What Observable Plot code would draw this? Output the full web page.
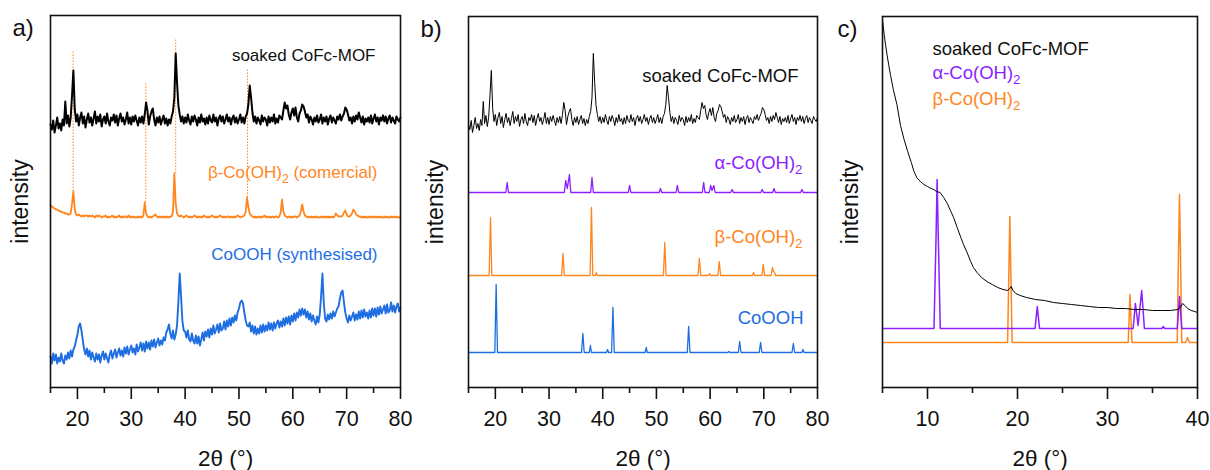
<!DOCTYPE html>
<html><head><meta charset="utf-8">
<script src="https://cdn.jsdelivr.net/npm/d3@7"></script>
<script src="https://cdn.jsdelivr.net/npm/@observablehq/plot@0.6"></script>
<style>
body{margin:0;background:#fff;}
#wrap{position:relative;width:1210px;height:470px;overflow:hidden;}
#wrap svg{position:absolute;top:0;}
</style></head><body><div id="wrap"></div>
<script>
// ---------- data ----------
// 2θ grid of the measured patterns (panel a/b), 0.25° steps from 15 to 80
const gridStart = 15, gridStep = 0.25;
// soaked CoFc-MOF (measured, arbitrary intensity)
const soaked = [
263,258,267,255, 262,270,259,264, 257,268,262,286, 264,272,261,270, 292,317,279,266,
273,262,270,275, 264,271,260,268, 274,265,270,262, 269,276,264,271, 266,273,261,268,
271,264,274,266, 262,270,267,273, 265,272,262,269, 274,266,270,263, 268,275,264,270,
263,271,266,272, 267,262,270,265, 271,264,273,285, 277,263,271,276, 279,268,262,270,
265,271,263,268, 272,264,269,262, 268,264,271,276, 290,334,305,282, 273,266,271,264,
270,265,273,267, 263,271,266,272, 268,262,270,265, 273,266,269,263, 270,264,272,267,
265,273,266,270, 262,269,272,266, 271,264,268,273, 266,270,263,269, 272,265,270,264,
268,273,265,270, 264,271,274,283, 302,290,275,266, 271,264,270,267, 263,272,266,270,
268,262,271,265, 270,266,273,264, 269,265,272,270, 268,277,285,279, 282,273,268,275,
279,272,280,270, 266,274,277,283, 281,276,270,273, 265,271,268,263, 270,266,272,265,
268,273,264,270, 266,271,263,269, 272,265,270,267, 264,271,268,273, 267,271,274,280,
278,273,267,270, 264,271,266,272, 268,275,270,265, 271,263,269,266, 270,265,272,264,
269,273,266,270, 263,270,267,272, 266,271,264,269, 272,265,270,267, 264,271,268,266,
270];
// β-Co(OH)2 commercial (measured)
const betaCommercial = [
182,181,180,179, 178,178,177,176, 176,175,175,174, 174,173,173,174, 184,196,178,173,
172,173,172,171, 172,171,172,172, 171,172,171,172, 171,170,172,171, 172,171,170,171,
171,172,170,171, 170,171,172,170, 171,170,171,172, 170,171,170,171, 171,170,172,170,
171,170,171,170, 170,171,170,171, 170,172,185,174, 171,170,171,170, 171,172,173,171,
170,171,170,171, 170,171,170,171, 170,171,171,176, 214,184,174,172, 171,172,171,170,
171,172,171,170, 171,170,171,172, 171,170,171,170, 171,170,172,171, 170,171,170,171,
172,171,170,171, 170,171,172,171, 170,171,170,171, 171,170,171,170, 171,170,171,172,
171,170,171,171, 172,176,190,180, 174,172,171,170, 171,170,171,170, 171,170,171,172,
170,171,170,171, 170,171,170,171, 171,170,171,175, 188,176,172,171, 170,171,170,171,
170,171,171,170, 171,172,176,183, 176,172,171,170, 171,170,171,170, 171,170,171,170,
170,171,170,171, 170,171,170,171, 170,171,170,171, 174,172,171,171, 171,172,175,177,
173,171,171,172, 174,178,176,173, 172,171,171,170, 171,170,171,170, 170,171,170,171,
170,171,170,171, 170,171,170,170, 171,170,171,170, 170,171,170,171, 170,171,170,170,
171];
// CoOOH synthesised (measured)
const cooohSynth = [
31,24,34,27, 33,24,30,26, 34,27,24,32, 28,35,29,37, 31,38,41,47,
53,61,64,57, 47,38,33,39, 31,37,28,35, 30,26,34,28, 33,25,32,36,
28,34,29,25, 33,37,29,34, 38,30,35,39, 32,37,31,40, 34,41,33,38,
42,35,39,33, 43,36,40,45, 37,44,36,46, 39,45,38,47, 41,48,40,45,
49,42,47,43, 50,47,55,58, 63,54,49,57, 48,53,62,86, 114,91,66,57,
56,50,57,48, 46,54,47,44, 52,44,51,42, 48,55,47,56, 51,58,50,59,
53,62,54,58, 63,55,64,57, 59,66,58,67, 61,69,62,70, 65,72,67,75,
79,85,87,84, 75,67,62,61, 65,56,62,54, 61,53,59,54, 62,55,63,56,
62,57,65,58, 64,57,65,59, 64,67,60,66, 61,69,62,70, 64,71,63,72,
66,74,67,75, 70,78,72,79, 73,78,70,76, 68,74,66,72, 67,63,71,65,
73,91,114,85, 69,66,73,68, 74,69,76,71, 75,79,81,89, 95,97,85,75,
69,65,72,67, 71,75,67,73, 68,76,69,77, 70,78,71,75, 69,77,70,79,
72,79,71,80, 73,81,74,78, 82,74,83,75, 77,85,76,82, 75,81,84,76,
80];
// dotted guide lines in panel a: [2θ, lower, upper]
const guideLines = [[19.2,196,337],[32.7,185,305],[38.25,214,349],[51.6,190,319]];

// reference patterns, panel b: [2θ, intensity]
const alphaRef = [[15,195],[21.95,195],[22.2,205],[22.45,195],[32.85,195],[33.1,207],[33.4,199],[33.8,213],[34.05,195],
[37.75,195],[38.0,210],[38.25,195],[44.75,195],[45.0,202],[45.25,195],[50.5,195],[50.75,199],[51.0,195],
[53.65,195],[53.9,202],[54.15,195],[58.55,195],[58.8,205],[59.05,195],[59.85,195],[60.1,202],[60.35,197],[60.7,202],[60.95,195],
[63.85,195],[64.1,198],[64.35,195],[69.45,195],[69.7,198],[69.95,195],[71.65,195],[71.9,199],[72.15,195],
[76.85,195],[77.1,198],[77.35,195],[80,195]];
const betaRef = [[15,112],[18.85,112],[19.1,170],[19.35,112],[32.35,112],[32.6,134],[32.85,112],
[37.65,112],[37.9,180],[38.15,112],[38.6,112],[38.8,115],[39.0,112],[51.3,112],[51.55,145],[51.8,112],
[57.75,112],[58.0,129],[58.25,112],[59.7,112],[59.9,114],[60.1,112],[61.45,112],[61.7,126],[61.95,112],
[67.9,112],[68.1,115],[68.3,112],[69.65,112],[69.9,123],[70.15,112],[71.35,112],[71.6,120],[71.8,116],[72.0,115],[72.2,112],[80,112]];
const cooohRef = [[15,35],[19.9,35],[20.15,103],[20.4,35],[36.05,35],[36.3,54],[36.55,35],[37.5,35],[37.7,42],[37.9,35],
[40.7,35],[40.9,38],[41.1,35],[41.65,35],[41.9,80],[42.15,35],[47.9,35],[48.1,40],[48.3,35],
[55.75,35],[56.0,61],[56.25,35],[63.3,35],[63.5,36],[63.7,35],[65.25,35],[65.5,46],[65.75,35],
[69.15,35],[69.4,45],[69.65,35],[75.25,35],[75.5,44],[75.75,35],[77.1,35],[77.3,38],[77.5,35],[80,35]];

// panel c (low angle): [2θ, intensity]
const soakedLow = [[5.0,368],[5.1,360],[5.2,352],[5.35,342],[5.5,333],[5.7,322],[5.9,312],[6.2,298],[6.6,283],[7.0,262],
[7.4,248],[7.8,236],[8.2,225],[8.5,216],[8.8,210],[9.2,206],[9.6,203],[10.0,201],[10.4,199],[10.7,198],[11.0,196],
[11.4,195],[11.8,190],[12.2,184],[12.6,176],[12.9,170],[13.3,160],[13.7,150],[14.0,143],[14.4,135],[14.8,126],
[15.1,120],[15.5,115],[16.0,110],[16.6,106],[17.2,103],[17.8,100],[18.4,98],[18.9,97],[19.15,99],[19.3,101],
[19.5,97],[19.8,94],[20.3,92],[21,90],[22,88],[23,87],[24,85],[25,84],[26,83],[27,82],[28,81],[29,80],[30,80],
[31,79],[32,79],[33,78],[34,78],[35,77],[36,77],[37,77],[37.8,78],[38.1,80],[38.35,84],[38.6,82],[38.9,79],
[39.3,77],[39.7,76],[40,75]];
const alphaLow = [[5,59],[10.72,59],[10.95,150],[11.07,208],[11.2,150],[11.42,59],[21.95,59],[22.2,81],[22.45,59],
[32.85,59],[33.1,84],[33.4,62],[33.8,97],[34.1,59],[36.05,59],[36.2,61],[36.35,59],[37.75,59],[38.0,91],[38.25,59],[40,59]];
const betaLow = [[5,45],[18.9,45],[19.05,120],[19.15,171],[19.25,120],[19.4,45],[32.3,45],[32.5,93],[32.72,45],
[37.75,45],[37.9,140],[38.0,193],[38.1,140],[38.25,45],[38.7,45],[38.9,50],[39.1,45],[40,45]];

const ticksHigh = [20,30,40,50,60,70,80], minorHigh = [15,25,35,45,55,65,75];
const ticksLow = [10,20,30,40], minorLow = [5,15,25,35];

// ---------- styles ----------
const FONT = "'Liberation Sans', Arial, Helvetica, sans-serif";
const BLACK = "#000", ORANGE = "#ff861e", PURPLE = "#8c1eff", BLUE = "#1e6ee1";
const gridRows = arr => arr.map((v, i) => ({t: gridStart + i * gridStep, v}));

function label(text, o) {
  return Plot.text([text], {text: d => d, lineAnchor: "middle", ...o});
}

function panel(o) {
  const svg = Plot.plot({
    width: o.width, height: 470,
    marginLeft: o.ml, marginRight: o.mr, marginTop: o.mt, marginBottom: 83,
    x: {domain: o.xDomain, label: null},
    y: {domain: [0, 387 - o.mt], axis: null, label: null},
    style: {fontFamily: FONT, fontSize: "20px", color: "#111", background: "none", overflow: "visible"},
    marks: [
      ...o.marks,
      Plot.frame({stroke: "#111", strokeWidth: 1.6}),
      Plot.axisX({ticks: o.majors, tickSize: 12, tickPadding: 11, fontSize: 21.5, label: null, strokeWidth: 1.6}),
      Plot.axisX({ticks: o.minors, tickSize: 6, tickFormat: () => "", label: null, strokeWidth: 1.6}),
      label("2θ (°)", {frameAnchor: "bottom", dy: 71, fontSize: 22.5, fill: "#111"}),
      label("intensity", {frameAnchor: "left", dx: o.idx, rotate: -90, textAnchor: "middle", fontSize: 23, fill: "#111"}),
      label(o.letter, {frameAnchor: "top-left", dx: o.ldx, dy: 13, textAnchor: "start", fontSize: 24, fill: "#111"})
    ]
  });
  svg.style.left = o.left + "px";
  // subscripts
  const ns = "http://www.w3.org/2000/svg";
  svg.querySelectorAll("text").forEach(t => {
    if (!t.textContent.includes("₂")) return;
    const parts = t.textContent.split("₂");
    t.textContent = "";
    parts.forEach((p, i) => {
      if (i === 0) { t.appendChild(document.createTextNode(p)); return; }
      const s = document.createElementNS(ns, "tspan");
      s.setAttribute("dy", "5"); s.setAttribute("font-size", "0.72em"); s.textContent = "2";
      t.appendChild(s);
      if (p) {
        const r = document.createElementNS(ns, "tspan");
        r.setAttribute("dy", "-5"); r.textContent = p;
        t.appendChild(r);
      }
    });
  });
  document.getElementById("wrap").appendChild(svg);
}

const xy = {x: d => d[0], y: d => d[1]};

// panel a
panel({
  left: 0, width: 410, ml: 50, mr: 10, mt: 15, xDomain: [15, 80], majors: ticksHigh, minors: minorHigh,
  idx: -30, ldx: -38, letter: "a)",
  marks: [
    Plot.ruleX(guideLines, {x: d => d[0], y1: d => d[1], y2: d => d[2], stroke: ORANGE, strokeWidth: 1, strokeDasharray: "1.5,1.5"}),
    Plot.line(gridRows(cooohSynth), {x: "t", y: "v", stroke: BLUE, strokeWidth: 1.9}),
    Plot.line(gridRows(betaCommercial), {x: "t", y: "v", stroke: ORANGE, strokeWidth: 1.8}),
    Plot.line(gridRows(soaked), {x: "t", y: "v", stroke: BLACK, strokeWidth: 2}),
    label("soaked CoFc-MOF", {frameAnchor: "top-right", dx: -25, dy: 40, fontSize: 17, fill: "#111"}),
    label("β-Co(OH)₂ (comercial)", {frameAnchor: "top-right", dx: -23, dy: 157, fontSize: 17, fill: ORANGE}),
    label("CoOOH (synthesised)", {frameAnchor: "top-right", dx: -23, dy: 239, fontSize: 17, fill: BLUE})
  ]
});

// panel b
panel({
  left: 410, width: 420, ml: 58, mr: 13, mt: 16, xDomain: [15, 80], majors: ticksHigh, minors: minorHigh,
  idx: -33, ldx: -48, letter: "b)",
  marks: [
    Plot.line(cooohRef, {...xy, stroke: BLUE, strokeWidth: 1.3}),
    Plot.line(betaRef, {...xy, stroke: ORANGE, strokeWidth: 1.3}),
    Plot.line(alphaRef, {...xy, stroke: PURPLE, strokeWidth: 1.3}),
    Plot.line(gridRows(soaked), {x: "t", y: "v", stroke: BLACK, strokeWidth: 1}),
    label("soaked CoFc-MOF", {frameAnchor: "top-right", dx: -19, dy: 60, fontSize: 18.5, fill: "#111"}),
    label("α-Co(OH)₂", {frameAnchor: "top-right", dx: -15, dy: 147, fontSize: 18.5, fill: PURPLE}),
    label("β-Co(OH)₂", {frameAnchor: "top-right", dx: -15, dy: 221, fontSize: 18.5, fill: ORANGE}),
    label("CoOOH", {frameAnchor: "top-right", dx: -14, dy: 302, fontSize: 18.5, fill: BLUE})
  ]
});

// panel c
panel({
  left: 830, width: 380, ml: 52, mr: 13, mt: 16, xDomain: [5, 40], majors: ticksLow, minors: minorLow,
  idx: -32, ldx: -45, letter: "c)",
  marks: [
    Plot.line(betaLow, {...xy, stroke: ORANGE, strokeWidth: 1.5}),
    Plot.line(alphaLow, {...xy, stroke: PURPLE, strokeWidth: 1.5}),
    Plot.line(soakedLow, {...xy, stroke: BLACK, strokeWidth: 1}),
    label("soaked CoFc-MOF", {frameAnchor: "top-left", dx: 50, dy: 33, textAnchor: "start", fontSize: 18.5, fill: "#111"}),
    label("α-Co(OH)₂", {frameAnchor: "top-left", dx: 50, dy: 57, textAnchor: "start", fontSize: 18.5, fill: PURPLE}),
    label("β-Co(OH)₂", {frameAnchor: "top-left", dx: 50, dy: 83, textAnchor: "start", fontSize: 18.5, fill: ORANGE})
  ]
});
</script></body></html>
